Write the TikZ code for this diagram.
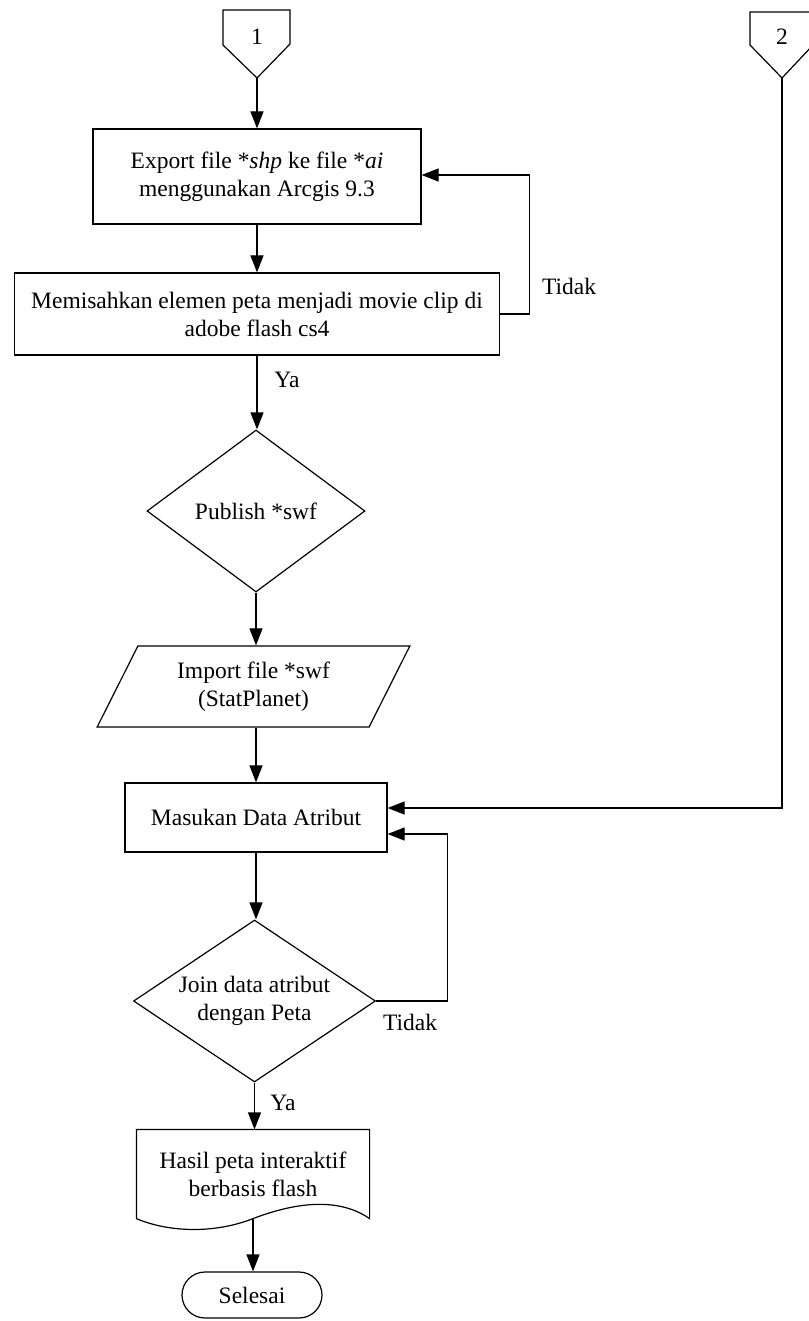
\documentclass[tikz,border=0pt]{standalone}
\usepackage{fontspec}
\setmainfont{Liberation Serif}
\usetikzlibrary{arrows.meta,shapes.geometric,shapes.misc}
\begin{document}
\begin{tikzpicture}[x=1pt,y=-1pt,
  line width=1.2pt,
  every node/.style={font=\fontsize{23.5}{28}\selectfont, align=center},
  proc/.style={draw, rectangle, inner sep=0pt},
  decis/.style={draw, diamond, inner sep=0pt},
  io/.style={draw, trapezium, trapezium left angle=61.5, trapezium right angle=118.5, trapezium stretches=true, inner sep=0pt},
  term/.style={draw, rounded rectangle, inner sep=0pt},
  lbl/.style={inner sep=0pt},
  arr/.style={-{Triangle[length=17pt,width=13pt]}}
]
\useasboundingbox (0,0) rectangle (808,1321);
% off-page connectors
\draw (223,10) -- (290,10) -- (290,44) -- (257,78) -- (223,45) -- cycle;
\node[lbl] (k1) at (257,37) {1};
\coordinate (p1) at (257,78);
\draw (750,12) -- (814,12) -- (814,44) -- (782,78) -- (750,45) -- cycle;
\node[lbl] (k2) at (782,37) {2};
\coordinate (p2) at (782,78);
% nodes
\node[proc, minimum width=328, minimum height=95] (b1) at (257,176.5)
  {Export file *\textit{shp} ke file *\textit{ai}\\ menggunakan Arcgis 9.3};
\node[proc, minimum width=485, minimum height=82] (b2) at (257,314)
  {Memisahkan elemen peta menjadi movie clip di\\ adobe flash cs4};
\node[decis, aspect=1.35, minimum width=218, minimum height=162] (d1) at (256,511) {Publish *swf};
\node[io, minimum width=313, minimum height=81] (io1) at (253.5,686.5)
  {Import file *swf\\ (StatPlanet)};
\node[proc, minimum width=262, minimum height=69] (b3) at (256,817.5) {Masukan Data Atribut};
\node[decis, aspect=1.49, minimum width=242, minimum height=162] (d2) at (254.5,1001)
  {Join data atribut\\ dengan Peta};
\node[rectangle, inner sep=0pt, minimum width=232, minimum height=88] (doc) at (253,1174)
  {Hasil peta interaktif\\ berbasis flash};
\draw (doc.south west) -- (doc.north west) -- (doc.north east) -- (doc.south east)
  .. controls +(-29,-20) and +(47,-18) .. (doc.south)
  .. controls +(-38,15) and +(33,14) .. (doc.south west);
\node[term, minimum width=140, minimum height=46] (end) at (252,1295) {Selesai};
% labels
\node[lbl] (t1) at (569,286) {Tidak};
\node[lbl] (y1) at (287,380) {Ya};
\node[lbl] (t2) at (410,1022) {Tidak};
\node[lbl] (y2) at (283,1103) {Ya};
% connectors
\draw[arr] (p1) -- (p1 |- b1.north);
\draw[arr] (b1.south) -- (b1.south |- b2.north);
\draw[arr] (b2.south) -- (b2.south |- d1.north);
\draw[arr] (d1.south) -- (d1.south |- io1.north);
\draw[arr] (d1.south |- io1.south) -- (d1.south |- b3.north);
\draw[arr] (b3.south) -- (b3.south |- d2.north);
\draw[arr] (d2.south) -- (d2.south |- doc.north);
\draw[arr] (doc.south) -- (doc.south |- end.north);
\draw[arr] (b2.east) -- ++(29,0) |- ([yshift=1.5]b1.east);
\draw[arr] (p2) |- ([yshift=9.5]b3.east);
\draw[arr] (d2.east) -- ++(71,0) |- ([yshift=-16.5]b3.east);
\end{tikzpicture}
\end{document}
